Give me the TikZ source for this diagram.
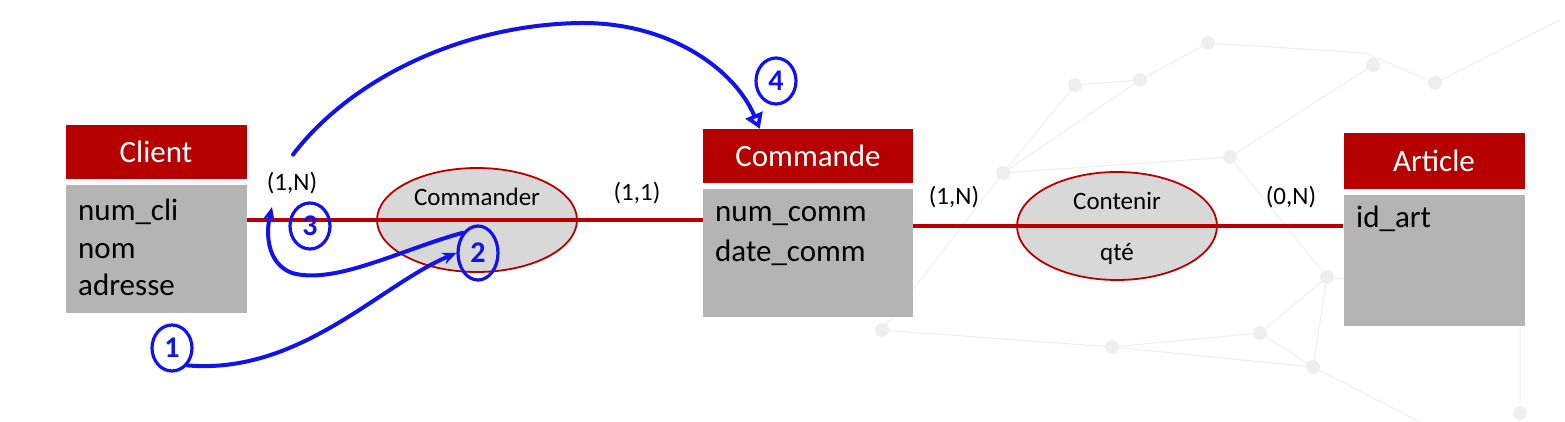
\documentclass[tikz,border=0pt]{standalone}
\usepackage{fontspec}
\setmainfont{Carlito}
\usepackage{tikz}
\usetikzlibrary{shapes.geometric,arrows.meta,calc,positioning}
\definecolor{erred}{RGB}{182,0,0}
\definecolor{attrgray}{RGB}{180,180,180}
\definecolor{assocgray}{RGB}{216,216,216}
\definecolor{inkblue}{RGB}{18,18,235}
\definecolor{netgray}{RGB}{238,238,238}
\tikzset{
  titlebox/.style={rectangle, fill=erred, text=white, minimum width=181pt, minimum height=54pt, inner sep=0pt, font=\fontsize{31}{36}\selectfont},
  attrbox/.style={rectangle, fill=attrgray, minimum width=181pt, minimum height=128pt, inner sep=0pt},
  attrtext/.style={anchor=base west, inner sep=0pt, font=\fontsize{31}{36}\selectfont},
  assoc/.style={ellipse, draw=erred, fill=assocgray, line width=1.8pt, minimum width=200pt, minimum height=104pt, inner sep=0pt},
  assoctext/.style={font=\fontsize{25}{28}\selectfont},
  card/.style={font=\fontsize{25}{28}\selectfont},
  link/.style={draw=erred, line width=4pt},
  handdrawn/.style={draw=inkblue, line width=4pt, line cap=round, line join=round},
  numring/.style={ellipse, draw=inkblue, line width=3.2pt, text=inkblue, minimum width=40pt, minimum height=46pt, inner sep=0pt, font=\fontsize{30}{32}\selectfont\bfseries},
  netline/.style={draw=netgray, line width=1pt},
  netdot/.style={fill=netgray}
}
\begin{document}
\begin{tikzpicture}[x=1pt,y=-1pt]
\useasboundingbox (0,0) rectangle (1565,422);
% faint network in the background
\draw[netline] (1003,173) -- (1140,80) -- (1208,43) -- (1365,53) -- (1435,83) -- (1560,20);
\draw[netline] (1140,80) -- (1075,85) -- (1003,173) -- (1230,157) -- (1373,65);
\draw[netline] (1230,157) -- (1327,277) -- (1313,367) -- (1112,347) -- (882,330);
\draw[netline] (1260,333) -- (1327,277) -- (1520,300) -- (1520,413);
\draw[netline] (1112,347) -- (1260,333) -- (1313,367) -- (1420,422);
\draw[netline] (882,330) -- (1003,173);
\foreach \p in {(1208,43),(1140,80),(1373,65),(1435,83),(1003,173),(1230,157),(1327,277),(1112,347),(1313,367),(1260,333),(882,330),(1075,85),(1520,413)}
  \fill[netdot] \p circle (7pt);

% entities
\node[titlebox] (clititle) at (156,152) {Client};
\node[attrbox, below=6pt of clititle] (cliattr) {};
\node[attrtext] (cli1) at (78,220) {num\_cli};
\node[attrtext] (cli2) at (78,258) {nom};
\node[attrtext] (cli3) at (78,295) {adresse};

\node[titlebox, minimum width=210pt] (cmdtitle) at (808,156) {Commande};
\node[attrbox, minimum width=210pt, below=6pt of cmdtitle] (cmdattr) {};
\node[attrtext] (cmd1) at (715,222) {num\_comm};
\node[attrtext] (cmd2) at (715,261) {date\_comm};

\node[titlebox, minimum height=56pt] (arttitle) at (1434,161) {Article};
\node[attrbox, minimum height=131pt, below=6pt of arttitle] (artattr) {};
\node[attrtext] (art1) at (1356,227) {id\_art};

% associations
\node[assoc] (commander) at (477,220) {};
\node[assoctext] (commanderlbl) at (477,197) {Commander};
\node[assoc, minimum height=108pt] (contenir) at (1117,226) {};
\node[assoctext] (contenirlbl) at (1117,201) {Contenir};
\node[assoctext] (qte) at (1117,254) {qté};

\draw[link] (cliattr.east |- commander.center) -- (cmdattr.west |- commander.center);
\draw[link] (cmdattr.east |- contenir.center) -- (artattr.west |- contenir.center);

% cardinalities
\node[card] (c1) at (292,183) {(1,N)};
\node[card] (c2) at (637,193) {(1,1)};
\node[card] (c3) at (954,197) {(1,N)};
\node[card] (c4) at (1291,197) {(0,N)};

% handwritten steps
\node[numring] (n1) at (172,348) {1};
\node[numring, minimum height=54pt] (n2) at (478,253) {2};
\node[numring] (n3) at (310,226) {3};
\node[numring] (n4) at (776,81) {4};

\coordinate (tip3) at (272,207);
\coordinate (start4) at ($(c1.north)+(1,-14)$);
\coordinate (top4) at (580,23);
\coordinate (tip4) at ($(cmdtitle.north west)+(57,0)$);

\draw[handdrawn, -{Stealth[length=14pt,width=12pt]}] (n1.south east) .. controls (300,375) and (380,285) .. (n2.west);
\draw[handdrawn, -{Stealth[length=14pt,width=12pt]}] (n2.north west) .. controls (400,250) and (335,285) .. (292,273) .. controls (266,263) and (266,232) .. (tip3);
\draw[handdrawn] (start4) .. controls (350,80) and (460,25) .. (top4);
\draw[handdrawn, -{Triangle[open,length=15pt,width=18pt]}] (top4) .. controls (670,22) and (735,70) .. (tip4);
\end{tikzpicture}
\end{document}
